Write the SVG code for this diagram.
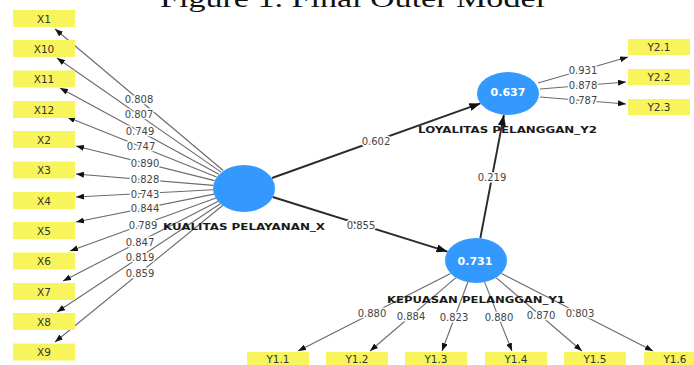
<svg xmlns="http://www.w3.org/2000/svg" width="694" height="365" viewBox="0 0 694 365">
  <style>
    .box { fill: #f8f55c; }
    .boxt { font-family: "DejaVu Sans", sans-serif; font-size: 10.5px; fill: #333; text-anchor: middle; }
    .lv { fill: #3399ff; }
    .lvv { font-family: "DejaVu Sans", sans-serif; font-weight: bold; font-size: 11px; fill: #fff; text-anchor: middle; }
    .lvn { font-family: "DejaVu Sans", sans-serif; font-weight: bold; font-size: 9.5px; fill: #1a1a1a; }
    .ind { stroke: #6a6a6a; stroke-width: 1.1; fill: none; marker-end: url(#ah); }
    .path { stroke: #2b2b2b; stroke-width: 1.9; fill: none; marker-end: url(#ahb); }
    .w { font-family: "DejaVu Sans", sans-serif; font-size: 10px; fill: #444; text-anchor: middle;
         paint-order: stroke; stroke: #fff; stroke-width: 3px; stroke-linejoin: round; }
    .cap { font-family: "Liberation Serif", "Times New Roman", serif; font-size: 25px; fill: #111; }
  </style>
  <defs>
    <marker id="ah" markerWidth="8" markerHeight="6" refX="8" refY="3" orient="auto" markerUnits="userSpaceOnUse">
      <path d="M0,0 L8,3 L0,6 z" fill="#111"/>
    </marker>
    <marker id="ahb" markerWidth="11" markerHeight="8" refX="11" refY="4" orient="auto" markerUnits="userSpaceOnUse">
      <path d="M0,0 L11,4 L0,8 z" fill="#111"/>
    </marker>
  </defs>
  <rect width="694" height="365" fill="#fff"/>

  <!-- caption, partly above the top edge -->
  <text class="cap" x="160" y="7" textLength="385" lengthAdjust="spacingAndGlyphs">Figure 1. Final Outer Model</text>

  <!-- connectors and weights -->
  <g id="connectors">
    <line class="ind" x1="223.2" y1="170.5" x2="55" y2="29"/>
    <line class="ind" x1="221.1" y1="172.1" x2="57" y2="58"/>
    <line class="ind" x1="218.8" y1="174.3" x2="60" y2="88"/>
    <line class="ind" x1="216.6" y1="177" x2="67" y2="117"/>
    <line class="ind" x1="214.6" y1="180.6" x2="76" y2="146"/>
    <line class="ind" x1="213.2" y1="185.4" x2="76" y2="174"/>
    <line class="ind" x1="213.1" y1="189.7" x2="76" y2="197"/>
    <line class="ind" x1="214" y1="194.1" x2="76" y2="222"/>
    <line class="ind" x1="216" y1="198.1" x2="70" y2="251"/>
    <line class="ind" x1="218.3" y1="201.2" x2="63" y2="281"/>
    <line class="ind" x1="220.7" y1="203.5" x2="57" y2="312"/>
    <line class="ind" x1="222.9" y1="205.2" x2="55" y2="342"/>

    <line class="ind" x1="538" y1="83" x2="628" y2="57"/>
    <line class="ind" x1="540" y1="89" x2="626" y2="82"/>
    <line class="ind" x1="540" y1="97" x2="626" y2="104"/>

    <line class="ind" x1="450.6" y1="273.4" x2="298" y2="351"/>
    <line class="ind" x1="455.9" y1="277.6" x2="370" y2="351"/>
    <line class="ind" x1="467.8" y1="282.2" x2="442" y2="351"/>
    <line class="ind" x1="484.6" y1="282.1" x2="512" y2="351"/>
    <line class="ind" x1="496.1" y1="277.6" x2="582" y2="351"/>
    <line class="ind" x1="501.3" y1="273.4" x2="653" y2="351"/>

    <line class="path" x1="272" y1="178" x2="480.4" y2="103.4"/>
    <line class="path" x1="272.7" y1="197" x2="447.5" y2="251.6"/>
    <line class="path" x1="480.3" y1="238.2" x2="503.9" y2="114.8"/>

    <text class="w" x="139" y="103">0.808</text>
    <text class="w" x="139" y="118">0.807</text>
    <text class="w" x="140" y="135">0.749</text>
    <text class="w" x="141" y="150">0.747</text>
    <text class="w" x="145" y="167">0.890</text>
    <text class="w" x="145" y="183">0.828</text>
    <text class="w" x="145" y="198">0.743</text>
    <text class="w" x="145" y="212">0.844</text>
    <text class="w" x="143" y="229">0.789</text>
    <text class="w" x="140" y="246">0.847</text>
    <text class="w" x="140" y="261">0.819</text>
    <text class="w" x="140" y="277">0.859</text>

    <text class="w" x="583" y="74">0.931</text>
    <text class="w" x="583" y="89">0.878</text>
    <text class="w" x="583" y="104">0.787</text>

    <text class="w" x="372" y="317">0.880</text>
    <text class="w" x="411" y="320">0.884</text>
    <text class="w" x="454" y="321">0.823</text>
    <text class="w" x="499" y="321">0.880</text>
    <text class="w" x="541" y="319">0.870</text>
    <text class="w" x="580" y="317">0.803</text>

    <text class="w" x="376" y="145">0.602</text>
    <text class="w" x="361" y="229">0.855</text>
    <text class="w" x="492" y="181">0.219</text>
  </g>

  <!-- latent variables -->
  <g id="kualitas_pelayanan_x">
    <ellipse class="lv" cx="244" cy="188.5" rx="31" ry="23.5"/>
    <text class="lvn" x="163" y="230" textLength="162" lengthAdjust="spacingAndGlyphs">KUALITAS PELAYANAN_X</text>
  </g>
  <g id="loyalitas_pelanggan_y2">
    <ellipse class="lv" cx="508" cy="93.5" rx="31" ry="21.5"/>
    <text class="lvv" x="508" y="96">0.637</text>
    <text class="lvn" x="418" y="133" textLength="179" lengthAdjust="spacingAndGlyphs">LOYALITAS PELANGGAN_Y2</text>
  </g>
  <g id="kepuasan_pelanggan_y1">
    <ellipse class="lv" cx="476" cy="260.5" rx="31" ry="22.5"/>
    <text class="lvv" x="475" y="265">0.731</text>
    <text class="lvn" x="387" y="303" textLength="178" lengthAdjust="spacingAndGlyphs">KEPUASAN PELANGGAN_Y1</text>
  </g>

  <!-- indicators of KUALITAS PELAYANAN_X -->
  <g id="x1"><rect class="box" x="13" y="10" width="62" height="17"/><text class="boxt" x="44" y="22.5">X1</text></g>
  <g id="x10"><rect class="box" x="13" y="40" width="62" height="17"/><text class="boxt" x="44" y="52.5">X10</text></g>
  <g id="x11"><rect class="box" x="13" y="70.5" width="62" height="17"/><text class="boxt" x="44" y="83">X11</text></g>
  <g id="x12"><rect class="box" x="13" y="101" width="62" height="17"/><text class="boxt" x="44" y="113.5">X12</text></g>
  <g id="x2"><rect class="box" x="13" y="131" width="62" height="17"/><text class="boxt" x="44" y="143.5">X2</text></g>
  <g id="x3"><rect class="box" x="13" y="161.5" width="62" height="17"/><text class="boxt" x="44" y="174">X3</text></g>
  <g id="x4"><rect class="box" x="13" y="192" width="62" height="17"/><text class="boxt" x="44" y="204.5">X4</text></g>
  <g id="x5"><rect class="box" x="13" y="222" width="62" height="17"/><text class="boxt" x="44" y="234.5">X5</text></g>
  <g id="x6"><rect class="box" x="13" y="252.5" width="62" height="17"/><text class="boxt" x="44" y="265">X6</text></g>
  <g id="x7"><rect class="box" x="13" y="283" width="62" height="17"/><text class="boxt" x="44" y="295.5">X7</text></g>
  <g id="x8"><rect class="box" x="13" y="313" width="62" height="17"/><text class="boxt" x="44" y="325.5">X8</text></g>
  <g id="x9"><rect class="box" x="13" y="343.5" width="62" height="17"/><text class="boxt" x="44" y="356">X9</text></g>

  <!-- indicators of LOYALITAS PELANGGAN_Y2 -->
  <g id="y2_1"><rect class="box" x="628" y="39" width="62" height="16"/><text class="boxt" x="659" y="51">Y2.1</text></g>
  <g id="y2_2"><rect class="box" x="628" y="69" width="62" height="16"/><text class="boxt" x="659" y="81">Y2.2</text></g>
  <g id="y2_3"><rect class="box" x="628" y="99" width="62" height="16"/><text class="boxt" x="659" y="111">Y2.3</text></g>

  <!-- indicators of KEPUASAN PELANGGAN_Y1 -->
  <g id="y1_1"><rect class="box" x="247" y="352" width="62" height="17"/><text class="boxt" x="278" y="363">Y1.1</text></g>
  <g id="y1_2"><rect class="box" x="326" y="352" width="62" height="17"/><text class="boxt" x="357" y="363">Y1.2</text></g>
  <g id="y1_3"><rect class="box" x="405" y="352" width="62" height="17"/><text class="boxt" x="436" y="363">Y1.3</text></g>
  <g id="y1_4"><rect class="box" x="485" y="352" width="62" height="17"/><text class="boxt" x="516" y="363">Y1.4</text></g>
  <g id="y1_5"><rect class="box" x="564" y="352" width="62" height="17"/><text class="boxt" x="595" y="363">Y1.5</text></g>
  <g id="y1_6"><rect class="box" x="644" y="352" width="62" height="17"/><text class="boxt" x="675" y="363">Y1.6</text></g>
</svg>
